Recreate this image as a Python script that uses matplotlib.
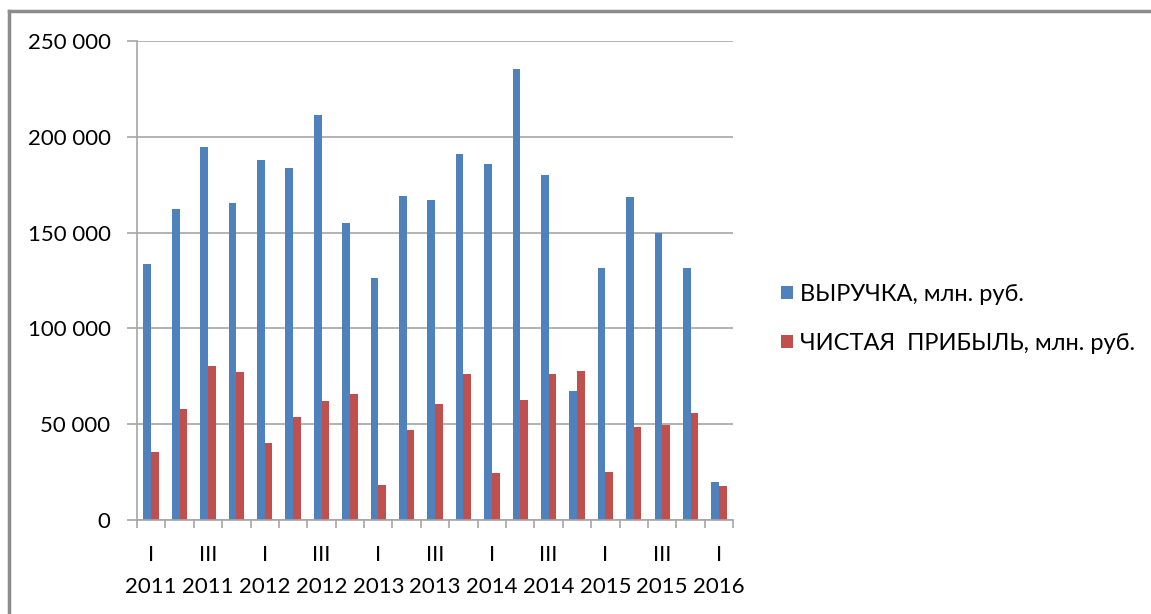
import matplotlib
matplotlib.use("Agg")
import matplotlib.pyplot as plt
import numpy as np
from matplotlib.lines import Line2D

# quarters 2011 I .. 2016 I
quarters = ["I", "II", "III", "IV"] * 5 + ["I"]
years = [y for y in range(2011, 2016) for _ in range(4)] + [2016]

revenue = [133600, 162300, 194500, 165600, 187700, 183900, 211200, 155000,
           126100, 169000, 167000, 191200, 185800, 235400, 179900, 67300,
           131500, 168400, 150000, 131500, 19700]
profit = [35600, 57900, 80500, 77400, 40400, 53900, 61900, 65900,
          18400, 47100, 60500, 76000, 24400, 62600, 76000, 77900,
          25000, 48500, 49700, 55700, 17700]

plt.rcParams['font.family'] = ['Lato', 'DejaVu Sans']

fig = plt.figure(figsize=(11.51, 6.14), dpi=100)
ax = fig.add_axes([0.119, 0.1531, 0.518, 0.7801])

x = np.arange(len(revenue))
w = 0.27
ax.bar(x - w / 2, revenue, w, color="#4F81BD", label="ВЫРУЧКА, млн. руб.")
ax.bar(x + w / 2, profit, w, color="#C0504D", label="ЧИСТАЯ  ПРИБЫЛЬ, млн. руб.")

ax.set_xlim(-0.5, len(revenue) - 0.5)
ax.set_ylim(0, 250000)
ax.set_yticks(range(0, 250001, 50000))
ax.set_yticklabels([f"{v:,}".replace(",", " ") for v in range(0, 250001, 50000)], fontsize=16)
ax.yaxis.grid(True, color="#a6a6a6", linewidth=1.2)
ax.set_axisbelow(True)

labels = [f"{q}\n{y}" if i % 2 == 0 else "" for i, (q, y) in enumerate(zip(quarters, years))]
ax.set_xticks(x)
ax.set_xticklabels(labels, fontsize=16, linespacing=1.75)
ax.set_xticks(np.arange(-0.5, len(revenue), 1), minor=True)
ax.tick_params(axis="x", which="major", length=0, pad=18)
ax.tick_params(axis="x", which="minor", length=6, color="#a6a6a6", width=1.2)
ax.tick_params(axis="y", length=7, color="#a6a6a6", width=1.2, pad=12)

for s in ["top", "right"]:
    ax.spines[s].set_visible(False)
for s in ["left", "bottom"]:
    ax.spines[s].set_color("#a6a6a6")
    ax.spines[s].set_linewidth(1.2)

ax.legend(loc="center left", bbox_to_anchor=(1.045, 0.42), frameon=False,
          fontsize=17, handlelength=0.5, handleheight=0.5, handletextpad=0.3,
          labelspacing=1.2)

# outer chart frame
fig.add_artist(Line2D([0.008, 0.008], [0, 0.982], color="#8c8c8c", lw=2.5))
fig.add_artist(Line2D([0.008, 1.0], [0.982, 0.982], color="#8c8c8c", lw=2.5))

fig.savefig("out.png", dpi=100)
